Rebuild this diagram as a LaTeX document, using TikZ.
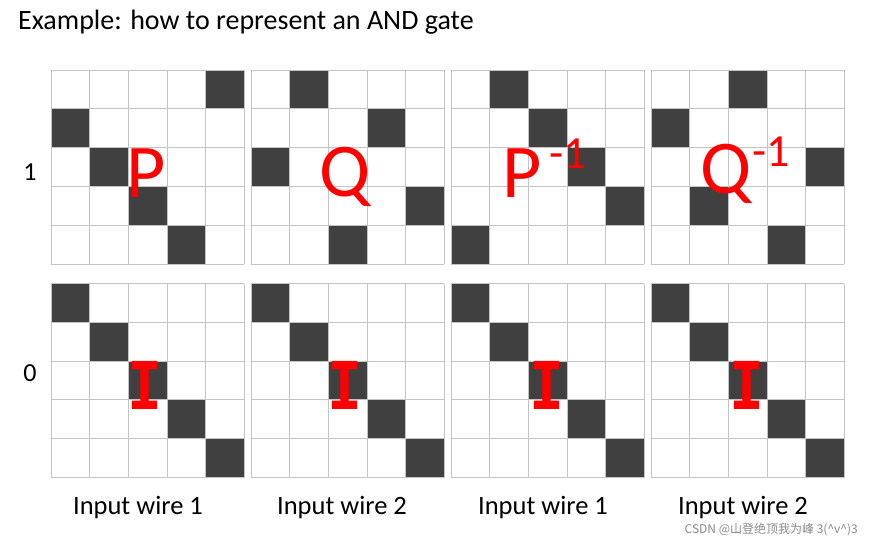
\documentclass[tikz,border=0pt]{standalone}
\usepackage{fontspec}
\setmainfont{Carlito}
\newfontfamily\cjkfont{Noto Sans CJK SC}
\newfontfamily\monobold{DejaVu Sans Mono}
\definecolor{cellc}{HTML}{404040}
\definecolor{gridc}{HTML}{C4C4C4}
\definecolor{labred}{HTML}{FF0000}
\definecolor{wmark}{HTML}{8A8A8A}
\newcommand\permgrid[3]{%
  \foreach \cc [count=\rr from 0] in {#3} {
    \fill[cellc] ({#1+\cc*38.6},{#2+\rr*38.8}) rectangle ++(38.6,38.8);
  }
  \foreach \ii in {0,...,5} {
    \draw[gridline] ({#1+\ii*38.6},#2) -- ++(0,194);
    \draw[gridline] (#1,{#2+\ii*38.8}) -- ++(193,0);
  }
}
\begin{document}
\begin{tikzpicture}[x=1pt,y=-1pt,
  gridline/.style={draw=gridc,line width=1pt},
  biglab/.style={text=labred,inner sep=0pt,anchor=base,font=\fontsize{76}{76}\selectfont},
  idlab/.style={text=labred,inner sep=0pt,anchor=base,xscale=0.88,font=\monobold\bfseries\fontsize{66}{66}\selectfont},
  sidelab/.style={inner sep=0pt,anchor=base,font=\fontsize{26}{26}\selectfont},
  wirelab/.style={inner sep=0pt,anchor=base,font=\fontsize{26.5}{26.5}\selectfont}]
\useasboundingbox (0,0) rectangle (872,535);
\fill[white] (0,0) rectangle (872,535);

\node[inner sep=0pt,anchor=base west,font=\fontsize{28}{28}\selectfont] (title) at (18,30) {Example: how to represent an AND gate};

% top row
\permgrid{51.3}{70}{4,0,1,2,3}
\permgrid{251.3}{70}{1,3,0,4,2}
\permgrid{451.3}{70}{1,2,3,4,0}
\permgrid{651.3}{70}{2,0,4,1,3}
% bottom row
\permgrid{51.3}{283.5}{0,1,2,3,4}
\permgrid{251.3}{283.5}{0,1,2,3,4}
\permgrid{451.3}{283.5}{0,1,2,3,4}
\permgrid{651.3}{283.5}{0,1,2,3,4}

\node[biglab] (p) at (146,197) {P};
\node[biglab] (q) at (345,196) {Q};
\node[biglab,anchor=base west] (pinv) at (502,197) {P\hspace{8pt}\raisebox{29pt}{\fontsize{46}{46}\selectfont -1}};
\node[biglab,anchor=base west] (qinv) at (700,193) {Q\hspace{1pt}\raisebox{27pt}{\fontsize{46}{46}\selectfont -1}};

\node[idlab] (i1) at (145,409) {I};
\node[idlab] (i2) at (345,409) {I};
\node[idlab] (i3) at (547,409) {I};
\node[idlab] (i4) at (747,409) {I};

\node[sidelab] (one) at (30,180) {1};
\node[sidelab] (zero) at (30,381) {0};

\node[wirelab] (w1) at (138,514) {Input wire 1};
\node[wirelab] (w2) at (342,514) {Input wire 2};
\node[wirelab] (w3) at (543,514) {Input wire 1};
\node[wirelab] (w4) at (743,514) {Input wire 2};

\node[inner sep=0pt,anchor=base east,text=wmark,font=\cjkfont\fontsize{12}{12}\selectfont] (csdn) at (858,533) {CSDN @山登绝顶我为峰 3(\^{}v\^{})3};
\end{tikzpicture}
\end{document}
